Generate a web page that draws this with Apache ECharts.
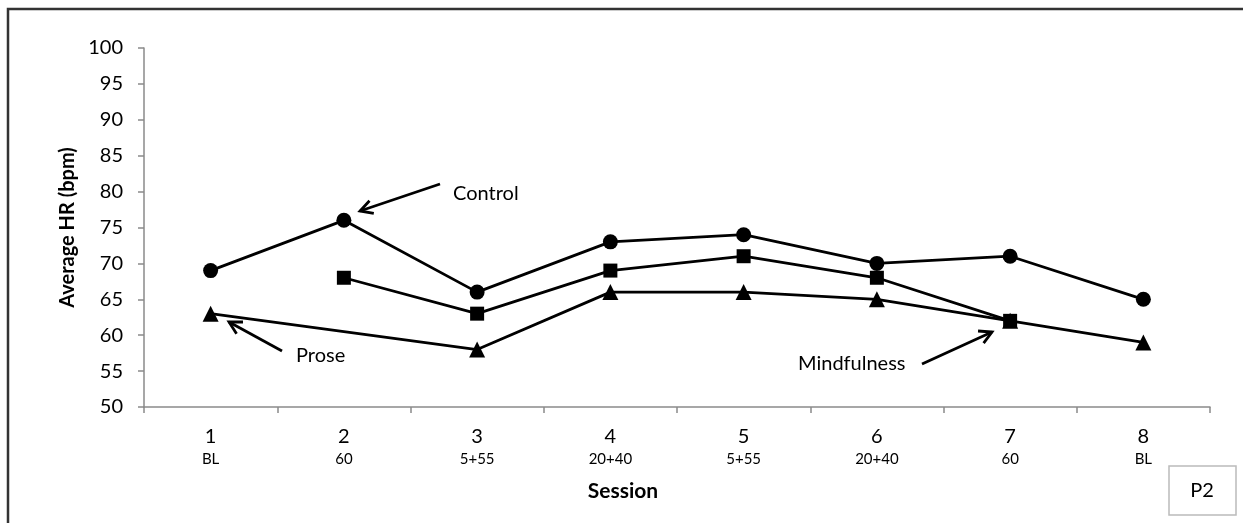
<!DOCTYPE html>
<html>
<head>
<meta charset="utf-8">
<script src="https://cdn.jsdelivr.net/npm/echarts@6/dist/echarts.min.js"></script>
<style>
  html, body { margin: 0; padding: 0; background: #fff; }
  #chart { width: 1243px; height: 523px; }
</style>
</head>
<body>
<div id="chart"></div>
<script>
// Session numbers and their protocol codes (second label line)
const sessions = ['1', '2', '3', '4', '5', '6', '7', '8'];
const protocols = ['BL', '60', '5+55', '20+40', '5+55', '20+40', '60', 'BL'];

// Average heart rate (bpm) per session for each condition
const control = [69, 76, 66, 73, 74, 70, 71, 65];
const mindfulness = [null, 68, 63, 69, 71, 68, 62, null];
const prose = [63, null, 58, 66, 66, 65, 62, 59];

const yTicks = { min: 50, max: 100, step: 5 };

const FONT = 'Lato, "Open Sans", sans-serif';
const chart = echarts.init(document.getElementById('chart'));

const categories = sessions.map((s, i) => s + '\n' + protocols[i]);

function arrow(x1, y1, x2, y2) {
  // line from (x1,y1) to tip (x2,y2) with an open V head
  const ang = Math.atan2(y2 - y1, x2 - x1);
  const len = 14, spread = 0.5;
  const a1 = [x2 - len * Math.cos(ang - spread), y2 - len * Math.sin(ang - spread)];
  const a2 = [x2 - len * Math.cos(ang + spread), y2 - len * Math.sin(ang + spread)];
  const style = { stroke: '#000', lineWidth: 2.8, fill: null, lineJoin: 'miter' };
  return [
    { type: 'line', shape: { x1, y1, x2, y2 }, style },
    { type: 'polyline', shape: { points: [a1, [x2, y2], a2] }, style }
  ];
}

const lineSeries = (name, data, symbol, size) => ({
  name, type: 'line', data, symbol, symbolSize: size,
  connectNulls: true,
  lineStyle: { color: '#000', width: 2.8 },
  itemStyle: { color: '#000' },
  emphasis: { disabled: true },
  animation: false
});

const label = (text, x, y, size, weight, align) => ({
  type: 'text', x, y,
  style: { text, font: (weight || 'normal') + ' ' + size + 'px ' + FONT, fill: '#000',
           align: align || 'left', verticalAlign: 'middle' }
});

chart.setOption({
  animation: false,
  grid: { left: 144, top: 48, right: 33, bottom: 116 },
  xAxis: {
    type: 'category',
    data: categories,
    boundaryGap: true,
    axisLine: { lineStyle: { color: '#8a8a8a', width: 1.5 } },
    axisTick: { show: true, length: 6, lineStyle: { color: '#8a8a8a', width: 1.5 } },
    axisLabel: {
      margin: 19,
      interval: 0,
      formatter: v => {
        const [a, b] = v.split('\n');
        return '{a|' + a + '}\n{b|' + b + '}';
      },
      rich: {
        a: { fontFamily: FONT, fontSize: 20, color: '#000', lineHeight: 22 },
        b: { fontFamily: FONT, fontSize: 15, color: '#000', lineHeight: 22 }
      }
    }
  },
  yAxis: {
    type: 'value',
    min: yTicks.min, max: yTicks.max, interval: yTicks.step,
    name: 'Average HR (bpm)',
    nameLocation: 'middle',
    nameGap: 62,
    nameTextStyle: { fontFamily: FONT, fontSize: 20, fontWeight: 'bold', color: '#000' },
    axisLine: { show: true, lineStyle: { color: '#8a8a8a', width: 1.5 } },
    axisTick: { show: true, length: 6, lineStyle: { color: '#8a8a8a', width: 1.5 } },
    splitLine: { show: false },
    axisLabel: { fontFamily: FONT, fontSize: 20, color: '#000', margin: 21 }
  },
  series: [
    lineSeries('Prose', prose, 'triangle', 16),
    lineSeries('Mindfulness', mindfulness, 'rect', 14),
    lineSeries('Control', control, 'circle', 15)
  ],
  graphic: [
    // outer frame
    { type: 'rect', shape: { x: 8, y: 9, width: 1260, height: 540 },
      style: { stroke: '#333', lineWidth: 2.5, fill: null }, silent: true },
    label('Session', 623, 491, 21, 'bold', 'center'),
    // panel tag
    { type: 'rect', shape: { x: 1169, y: 466, width: 67, height: 49 },
      style: { stroke: '#bbb', lineWidth: 1.5, fill: '#fff' } },
    label('P2', 1202, 491, 20, 'normal', 'center'),
    // condition annotations
    label('Control', 453, 194, 20),
    ...arrow(440, 184, 360, 211),
    label('Prose', 296, 356, 20),
    ...arrow(282, 351, 229, 322),
    label('Mindfulness', 798, 364, 20),
    ...arrow(922, 364, 992, 332)
  ]
});
</script>
</body>
</html>
